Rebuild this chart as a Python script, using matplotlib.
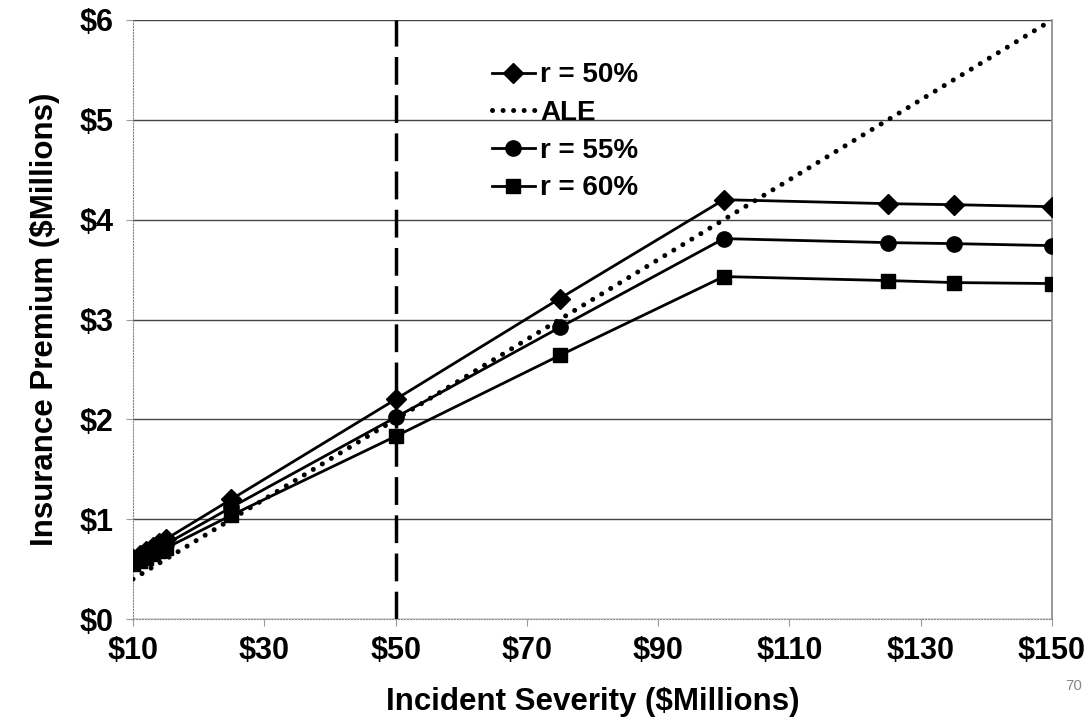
# Import libraries
import matplotlib.pyplot as plt
import matplotlib.ticker as mtick

# Incident severity ($M) and premium curves ($M)
severity = [10, 11, 12, 13, 14, 15, 25, 50, 75, 100, 125, 135, 150]
r50 = [0.60, 0.64, 0.68, 0.72, 0.76, 0.80, 1.20, 2.20, 3.21, 4.20, 4.16, 4.15, 4.13]
r55 = [0.57, 0.61, 0.64, 0.68, 0.71, 0.75, 1.12, 2.02, 2.92, 3.81, 3.77, 3.76, 3.74]
r60 = [0.55, 0.58, 0.61, 0.65, 0.68, 0.71, 1.04, 1.83, 2.64, 3.43, 3.39, 3.37, 3.36]
ale_x = [10, 150]
ale = [0.40, 6.00]
threshold = 50

plt.rcParams["font.family"] = ["Liberation Sans", "DejaVu Sans"]
plt.rcParams["font.weight"] = "bold"

fig = plt.figure(figsize=(10.92, 7.24), dpi=100)
ax = fig.add_axes([0.1218, 0.145, 0.8416, 0.8274])

# Premium curves
ax.plot(severity, r50, color="black", lw=2, marker="D", ms=10, label="r = 50%", zorder=4)
ax.plot(ale_x, ale, color="black", lw=3.6, linestyle=(0, (0.01, 2.1)),
        dash_capstyle="round", label="ALE", zorder=3)
ax.plot(severity, r55, color="black", lw=2, marker="o", ms=11, label="r = 55%", zorder=4)
ax.plot(severity, r60, color="black", lw=2, marker="s", ms=10, label="r = 60%", zorder=4)

# Vertical dashed marker at $50M
ax.axvline(threshold, color="black", lw=2.5, linestyle=(0, (8, 3)), zorder=2)

ax.set_xlim(10, 150)
ax.set_ylim(0, 6)
ax.set_xticks(range(10, 151, 20))
ax.set_yticks(range(0, 7))
ax.xaxis.set_major_formatter(mtick.StrMethodFormatter("${x:,.0f}"))
ax.yaxis.set_major_formatter(mtick.StrMethodFormatter("${x:,.0f}"))
ax.tick_params(labelsize=22, length=5, color="#999999", pad=7)
ax.tick_params(axis="y", pad=9)
for lbl in ax.get_xticklabels() + ax.get_yticklabels():
    lbl.set_fontweight("bold")

# Horizontal gridlines and frame
ax.grid(axis="y", color="#444444", lw=1)
ax.set_axisbelow(True)
ax.spines["top"].set_visible(False)
ax.spines["left"].set_linestyle(":")
ax.spines["bottom"].set_linestyle(":")
ax.spines["left"].set_color("#888888")
ax.spines["bottom"].set_color("#888888")
ax.spines["right"].set_color("#888888")
ax.spines["right"].set_linewidth(1.2)

ax.set_xlabel("Incident Severity ($Millions)", fontsize=22.5, fontweight="bold", labelpad=15)
ax.set_ylabel("Insurance Premium ($Millions)", fontsize=22.5, fontweight="bold", labelpad=14)

leg = ax.legend(loc="upper left", bbox_to_anchor=(0.378, 0.948), frameon=False,
                fontsize=20, handlelength=1.55, handletextpad=0.2, labelspacing=0.42,
                borderaxespad=0)
for t in leg.get_texts():
    t.set_fontweight("bold")

# Page number
fig.text(0.991, 0.047, "70", fontsize=11, color="#888888", fontweight="normal", ha="right")

plt.savefig("out.png", dpi=100)
